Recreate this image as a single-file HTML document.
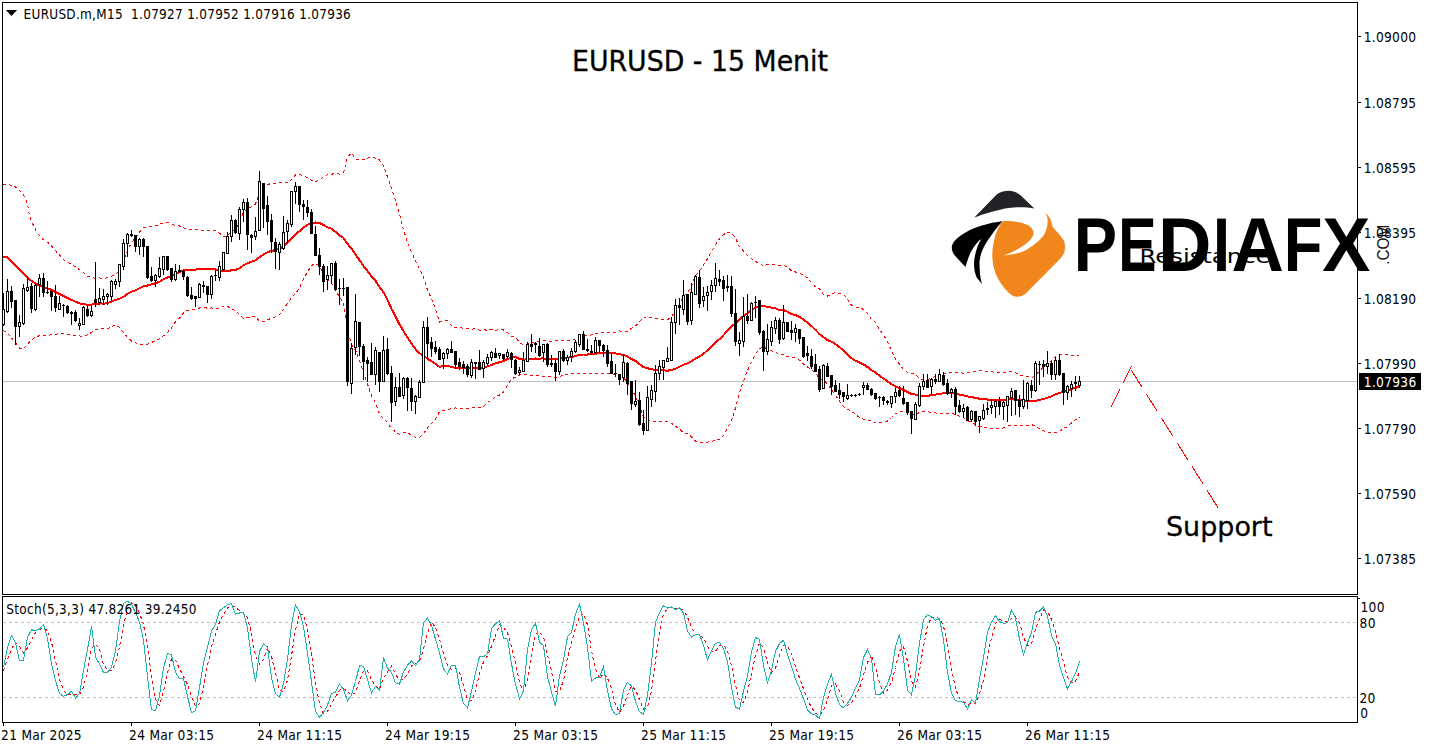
<!DOCTYPE html><html><head><meta charset="utf-8"><title>EURUSD M15</title><style>html,body{margin:0;padding:0;background:#fff;}svg{display:block;}</style></head><body>
<svg width="1429" height="749" viewBox="0 0 1429 749">
<rect x="0" y="0" width="1429" height="749" fill="#fff"/>
<rect x="3" y="381" width="1354" height="1" fill="#c0c0c0"/>
<g stroke="#c0c0c0" stroke-width="1" stroke-dasharray="3,3" shape-rendering="crispEdges"><line x1="3" y1="622.5" x2="1357" y2="622.5"/><line x1="3" y1="697.5" x2="1357" y2="697.5"/></g>
<g fill="none" stroke="#ff0000" shape-rendering="crispEdges">
<path d="M2.9,184.3 L8.6,184.3 L15.7,187.1 L21.4,192.1 L25.7,198.6 L27.9,205.7 L28.6,211.4 L30.0,217.1 L32.9,224.3 L37.1,232.9 L42.9,239.3 L49.3,243.6 L54.3,249.3 L60.0,255.7 L64.3,260.3 L71.4,264.3 L77.1,267.9 L82.9,272.1 L87.9,276.4 L95.5,278.3 L99.5,277.9 L103.5,278.4 L107.5,277.8 L111.5,276.3 L115.5,274.8 L119.5,270.3 L123.5,261.0 L127.5,250.4 L131.5,242.4 L135.5,238.0 L139.5,231.9 L143.5,227.6 L147.5,226.8 L151.5,226.3 L155.5,225.6 L159.5,224.5 L163.5,222.7 L167.5,222.6 L171.5,223.8 L175.5,225.5 L179.5,226.0 L183.5,227.9 L187.5,229.3 L191.5,229.7 L195.5,229.7 L199.5,230.2 L203.5,230.6 L207.5,230.2 L211.5,230.1 L215.5,230.6 L219.5,233.1 L223.5,236.2 L227.5,236.4 L231.5,230.9 L235.5,229.6 L239.5,222.1 L243.5,212.1 L247.5,209.2 L251.5,206.8 L255.5,204.0 L259.5,192.6 L263.5,187.3 L267.5,184.5 L271.5,183.5 L275.5,183.2 L279.5,182.7 L283.5,182.7 L287.5,182.8 L291.5,179.5 L295.5,175.0 L299.5,174.3 L303.5,176.3 L307.5,177.5 L311.5,180.5 L315.5,181.7 L319.5,180.2 L323.5,176.5 L327.5,174.9 L331.5,174.3 L335.5,173.2 L339.5,174.1 L343.5,172.8 L347.5,157.2 L351.5,152.8 L355.5,158.8 L359.5,159.9 L363.5,159.5 L367.5,158.4 L371.5,156.6 L375.5,158.3 L379.5,160.0 L383.5,165.8 L387.5,176.8 L391.5,188.8 L395.5,200.9 L399.5,214.2 L403.5,229.7 L407.5,242.5 L411.5,251.9 L415.5,261.0 L419.5,269.1 L423.5,276.9 L427.5,290.1 L431.5,298.7 L435.5,309.1 L439.5,322.0 L443.5,320.9 L447.5,321.0 L451.5,325.9 L455.5,327.6 L459.5,327.9 L463.5,328.1 L467.5,328.1 L471.5,329.2 L475.5,328.7 L479.5,330.2 L483.5,329.7 L487.5,330.3 L491.5,329.5 L495.5,330.2 L499.5,329.5 L503.5,329.9 L507.5,332.6 L511.5,336.0 L515.5,337.1 L519.5,342.6 L523.5,344.8 L527.5,344.0 L531.5,343.2 L535.5,341.3 L539.5,341.5 L543.5,340.7 L547.5,341.2 L551.5,341.2 L555.5,341.0 L559.5,340.4 L563.5,341.0 L567.5,340.8 L571.5,340.3 L575.5,338.9 L579.5,335.8 L583.5,335.3 L587.5,335.2 L591.5,335.0 L595.5,333.6 L599.5,332.9 L603.5,332.8 L607.5,332.7 L611.5,332.7 L615.5,332.4 L619.5,330.9 L623.5,331.9 L627.5,331.1 L631.5,328.2 L635.5,325.9 L639.5,321.8 L643.5,317.1 L647.5,317.1 L651.5,317.1 L655.5,318.6 L659.5,319.0 L663.5,319.2 L667.5,319.9 L671.5,316.6 L675.5,311.0 L679.5,304.6 L683.5,296.3 L687.5,292.9 L691.5,285.9 L695.5,275.8 L699.5,271.0 L703.5,264.9 L707.5,258.6 L711.5,251.9 L715.5,244.8 L719.5,238.8 L723.5,234.6 L727.5,232.2 L731.5,232.9 L735.5,238.3 L739.5,246.7 L743.5,251.0 L747.5,255.7 L751.5,258.5 L755.5,261.3 L759.5,264.2 L763.5,265.3 L767.5,264.3 L771.5,264.5 L775.5,264.8 L779.5,265.3 L783.5,265.3 L787.5,266.9 L791.5,271.1 L795.5,272.0 L799.5,273.6 L803.5,274.9 L807.5,278.1 L811.5,282.5 L815.5,286.9 L819.5,288.7 L823.5,294.8 L827.5,296.0 L831.5,294.2 L835.5,292.4 L839.5,293.3 L843.5,294.4 L847.5,299.1 L851.5,305.2 L855.5,307.0 L859.5,307.4 L863.5,309.5 L867.5,313.5 L871.5,319.4 L875.5,322.4 L879.5,329.3 L883.5,335.1 L887.5,341.7 L891.5,351.0 L895.5,359.4 L899.5,364.0 L903.5,369.6 L907.5,372.3 L911.5,373.7 L915.5,374.0 L919.5,378.6 L923.5,379.6 L927.5,379.8 L931.5,378.0 L935.5,376.6 L939.5,373.9 L943.5,373.0 L947.5,373.0 L951.5,372.7 L955.5,372.5 L959.5,372.8 L963.5,373.1 L967.5,372.1 L971.5,372.0 L975.5,371.2 L979.5,370.9 L983.5,370.9 L987.5,371.2 L991.5,371.9 L995.5,372.2 L999.5,372.3 L1003.5,372.2 L1007.5,372.3 L1011.5,371.7 L1015.5,372.8 L1019.5,374.8 L1023.5,375.9 L1027.5,376.6 L1031.5,378.0 L1035.5,375.1 L1039.5,371.0 L1043.5,366.9 L1047.5,363.0 L1051.5,360.6 L1055.5,356.2 L1059.5,354.4 L1063.5,354.9 L1067.5,354.7 L1071.5,355.4 L1075.5,355.9 L1079.5,356.0" stroke-width="1" stroke-dasharray="3,3"/>
<path d="M2.9,330.0 L8.6,334.3 L14.3,341.4 L20.0,348.6 L22.9,349.3 L28.6,342.9 L34.3,337.9 L40.0,335.4 L50.0,335.0 L60.0,333.6 L68.6,334.3 L77.1,335.7 L82.9,336.4 L88.6,334.3 L95.5,329.4 L99.5,329.0 L103.5,328.9 L107.5,328.8 L111.5,326.6 L115.5,324.7 L119.5,327.2 L123.5,332.8 L127.5,337.3 L131.5,341.1 L135.5,342.8 L139.5,344.5 L143.5,345.0 L147.5,344.2 L151.5,342.4 L155.5,340.8 L159.5,338.8 L163.5,335.9 L167.5,332.4 L171.5,327.8 L175.5,321.8 L179.5,318.2 L183.5,313.0 L187.5,310.2 L191.5,309.6 L195.5,309.6 L199.5,308.0 L203.5,306.9 L207.5,308.4 L211.5,308.0 L215.5,308.5 L219.5,307.9 L223.5,306.3 L227.5,306.2 L231.5,309.5 L235.5,310.2 L239.5,314.6 L243.5,318.4 L247.5,317.5 L251.5,316.7 L255.5,316.4 L259.5,321.6 L263.5,321.7 L267.5,319.8 L271.5,318.2 L275.5,316.9 L279.5,314.8 L283.5,309.5 L287.5,303.2 L291.5,297.6 L295.5,293.9 L299.5,287.8 L303.5,278.5 L307.5,272.0 L311.5,265.5 L315.5,263.4 L319.5,266.0 L323.5,273.5 L327.5,279.7 L331.5,282.9 L335.5,290.7 L339.5,296.9 L343.5,302.7 L347.5,330.3 L351.5,344.4 L355.5,350.1 L359.5,360.5 L363.5,372.6 L367.5,383.9 L371.5,395.9 L375.5,403.0 L379.5,413.7 L383.5,418.5 L387.5,422.7 L391.5,428.7 L395.5,431.9 L399.5,434.4 L403.5,432.7 L407.5,432.7 L411.5,435.5 L415.5,437.2 L419.5,437.6 L423.5,434.1 L427.5,427.6 L431.5,423.8 L435.5,418.7 L439.5,411.8 L443.5,410.5 L447.5,410.5 L451.5,408.2 L455.5,408.0 L459.5,408.1 L463.5,408.3 L467.5,408.3 L471.5,408.1 L475.5,407.1 L479.5,407.2 L483.5,406.8 L487.5,402.4 L491.5,400.4 L495.5,396.4 L499.5,395.0 L503.5,392.1 L507.5,385.4 L511.5,378.9 L515.5,377.1 L519.5,375.1 L523.5,374.4 L527.5,374.8 L531.5,375.2 L535.5,375.8 L539.5,375.8 L543.5,376.2 L547.5,376.6 L551.5,376.6 L555.5,377.2 L559.5,376.5 L563.5,374.8 L567.5,374.5 L571.5,374.0 L575.5,373.2 L579.5,374.0 L583.5,373.7 L587.5,373.7 L591.5,373.5 L595.5,373.8 L599.5,373.5 L603.5,373.4 L607.5,373.8 L611.5,373.8 L615.5,374.4 L619.5,377.4 L623.5,378.0 L627.5,381.8 L631.5,389.7 L635.5,395.9 L639.5,406.6 L643.5,416.8 L647.5,419.6 L651.5,421.1 L655.5,421.5 L659.5,421.6 L663.5,421.6 L667.5,421.5 L671.5,423.2 L675.5,426.3 L679.5,429.2 L683.5,433.0 L687.5,433.7 L691.5,436.8 L695.5,441.1 L699.5,442.0 L703.5,442.5 L707.5,442.1 L711.5,441.5 L715.5,440.1 L719.5,439.3 L723.5,435.6 L727.5,428.4 L731.5,420.4 L735.5,408.0 L739.5,392.1 L743.5,381.1 L747.5,370.5 L751.5,362.0 L755.5,353.8 L759.5,348.5 L763.5,346.9 L767.5,349.2 L771.5,350.9 L775.5,351.7 L779.5,354.9 L783.5,354.9 L787.5,356.6 L791.5,357.1 L795.5,358.2 L799.5,360.1 L803.5,364.2 L807.5,366.9 L811.5,369.8 L815.5,372.8 L819.5,379.5 L823.5,379.9 L827.5,383.9 L831.5,389.5 L835.5,395.5 L839.5,401.1 L843.5,406.4 L847.5,409.3 L851.5,411.0 L855.5,414.4 L859.5,417.6 L863.5,419.3 L867.5,420.5 L871.5,420.8 L875.5,422.7 L879.5,422.1 L883.5,422.0 L887.5,421.1 L891.5,417.5 L895.5,413.6 L899.5,412.3 L903.5,410.7 L907.5,411.8 L911.5,414.3 L915.5,415.2 L919.5,412.4 L923.5,411.8 L927.5,411.7 L931.5,412.5 L935.5,412.9 L939.5,413.7 L943.5,413.6 L947.5,413.5 L951.5,413.3 L955.5,414.5 L959.5,416.4 L963.5,417.7 L967.5,420.8 L971.5,422.0 L975.5,424.8 L979.5,426.4 L983.5,427.2 L987.5,427.9 L991.5,428.3 L995.5,428.5 L999.5,428.7 L1003.5,427.8 L1007.5,425.9 L1011.5,425.5 L1015.5,425.6 L1019.5,425.6 L1023.5,425.5 L1027.5,425.2 L1031.5,424.5 L1035.5,426.5 L1039.5,428.9 L1043.5,430.7 L1047.5,432.5 L1051.5,432.3 L1055.5,432.4 L1059.5,431.4 L1063.5,428.5 L1067.5,426.6 L1071.5,422.9 L1075.5,419.6 L1079.5,417.1" stroke-width="1" stroke-dasharray="3,3"/>
<path d="M2.9,257.4 L7.1,257.4 L10.0,260.0 L14.3,264.3 L21.4,271.4 L28.6,278.6 L31.4,280.7 L35.7,283.6 L42.9,286.9 L50.0,289.3 L60.0,294.3 L68.6,298.6 L80.0,303.6 L88.6,305.0 L95.5,303.9 L99.5,303.4 L103.5,303.6 L107.5,303.3 L111.5,301.5 L115.5,299.8 L119.5,298.8 L123.5,296.9 L127.5,293.8 L131.5,291.8 L135.5,290.4 L139.5,288.2 L143.5,286.3 L147.5,285.5 L151.5,284.4 L155.5,283.2 L159.5,281.7 L163.5,279.3 L167.5,277.5 L171.5,275.8 L175.5,273.6 L179.5,272.1 L183.5,270.5 L187.5,269.8 L191.5,269.6 L195.5,269.6 L199.5,269.1 L203.5,268.8 L207.5,269.3 L211.5,269.1 L215.5,269.5 L219.5,270.5 L223.5,271.2 L227.5,271.3 L231.5,270.2 L235.5,269.9 L239.5,268.4 L243.5,265.2 L247.5,263.3 L251.5,261.8 L255.5,260.2 L259.5,257.1 L263.5,254.5 L267.5,252.1 L271.5,250.9 L275.5,250.1 L279.5,248.8 L283.5,246.1 L287.5,243.0 L291.5,238.5 L295.5,234.5 L299.5,231.1 L303.5,227.4 L307.5,224.8 L311.5,223.0 L315.5,222.5 L319.5,223.1 L323.5,225.0 L327.5,227.3 L331.5,228.6 L335.5,231.9 L339.5,235.5 L343.5,237.8 L347.5,243.8 L351.5,248.6 L355.5,254.5 L359.5,260.2 L363.5,266.0 L367.5,271.1 L371.5,276.2 L375.5,280.7 L379.5,286.9 L383.5,292.2 L387.5,299.8 L391.5,308.8 L395.5,316.4 L399.5,324.3 L403.5,331.2 L407.5,337.6 L411.5,343.7 L415.5,349.1 L419.5,353.3 L423.5,355.5 L427.5,358.8 L431.5,361.3 L435.5,363.9 L439.5,366.9 L443.5,365.7 L447.5,365.8 L451.5,367.0 L455.5,367.8 L459.5,368.0 L463.5,368.2 L467.5,368.2 L471.5,368.7 L475.5,367.9 L479.5,368.7 L483.5,368.2 L487.5,366.4 L491.5,364.9 L495.5,363.3 L499.5,362.2 L503.5,361.0 L507.5,359.0 L511.5,357.5 L515.5,357.1 L519.5,358.9 L523.5,359.6 L527.5,359.4 L531.5,359.2 L535.5,358.5 L539.5,358.6 L543.5,358.4 L547.5,358.9 L551.5,358.9 L555.5,359.1 L559.5,358.5 L563.5,357.9 L567.5,357.7 L571.5,357.2 L575.5,356.0 L579.5,354.9 L583.5,354.5 L587.5,354.5 L591.5,354.2 L595.5,353.7 L599.5,353.2 L603.5,353.1 L607.5,353.2 L611.5,353.2 L615.5,353.4 L619.5,354.2 L623.5,354.9 L627.5,356.5 L631.5,359.0 L635.5,360.9 L639.5,364.2 L643.5,367.0 L647.5,368.3 L651.5,369.1 L655.5,370.0 L659.5,370.3 L663.5,370.4 L667.5,370.7 L671.5,369.9 L675.5,368.7 L679.5,366.9 L683.5,364.6 L687.5,363.3 L691.5,361.3 L695.5,358.5 L699.5,356.5 L703.5,353.7 L707.5,350.3 L711.5,346.7 L715.5,342.5 L719.5,339.1 L723.5,335.1 L727.5,330.3 L731.5,326.6 L735.5,323.2 L739.5,319.4 L743.5,316.0 L747.5,313.1 L751.5,310.2 L755.5,307.5 L759.5,306.4 L763.5,306.1 L767.5,306.8 L771.5,307.7 L775.5,308.2 L779.5,310.1 L783.5,310.1 L787.5,311.8 L791.5,314.1 L795.5,315.1 L799.5,316.9 L803.5,319.5 L807.5,322.5 L811.5,326.1 L815.5,329.9 L819.5,334.1 L823.5,337.3 L827.5,340.0 L831.5,341.8 L835.5,344.0 L839.5,347.2 L843.5,350.4 L847.5,354.2 L851.5,358.1 L855.5,360.7 L859.5,362.5 L863.5,364.4 L867.5,367.0 L871.5,370.1 L875.5,372.5 L879.5,375.7 L883.5,378.5 L887.5,381.4 L891.5,384.2 L895.5,386.5 L899.5,388.1 L903.5,390.1 L907.5,392.0 L911.5,394.0 L915.5,394.6 L919.5,395.5 L923.5,395.7 L927.5,395.8 L931.5,395.2 L935.5,394.7 L939.5,393.8 L943.5,393.3 L947.5,393.2 L951.5,393.0 L955.5,393.5 L959.5,394.6 L963.5,395.4 L967.5,396.5 L971.5,397.0 L975.5,398.0 L979.5,398.7 L983.5,399.0 L987.5,399.5 L991.5,400.1 L995.5,400.3 L999.5,400.5 L1003.5,400.0 L1007.5,399.1 L1011.5,398.6 L1015.5,399.2 L1019.5,400.2 L1023.5,400.7 L1027.5,400.9 L1031.5,401.2 L1035.5,400.8 L1039.5,400.0 L1043.5,398.8 L1047.5,397.8 L1051.5,396.4 L1055.5,394.3 L1059.5,392.9 L1063.5,391.7 L1067.5,390.7 L1071.5,389.1 L1075.5,387.8 L1079.5,386.5" stroke-width="2"/>
</g>
<g fill="#000" shape-rendering="crispEdges"><rect x="3" y="293" width="1" height="33"/><rect x="2" y="309" width="3" height="16"/><rect x="3" y="310" width="1" height="14" fill="#fff"/><rect x="7" y="279" width="1" height="34"/><rect x="6" y="291" width="3" height="21"/><rect x="7" y="292" width="1" height="19" fill="#fff"/><rect x="11" y="286" width="1" height="22"/><rect x="10" y="291" width="3" height="11"/><rect x="15" y="300" width="1" height="45"/><rect x="14" y="300" width="3" height="27"/><rect x="19" y="315" width="1" height="22"/><rect x="18" y="322" width="3" height="5"/><rect x="19" y="323" width="1" height="3" fill="#fff"/><rect x="23" y="284" width="1" height="41"/><rect x="22" y="288" width="3" height="36"/><rect x="23" y="289" width="1" height="34" fill="#fff"/><rect x="27" y="276" width="1" height="16"/><rect x="26" y="287" width="3" height="4"/><rect x="27" y="288" width="1" height="2" fill="#fff"/><rect x="31" y="283" width="1" height="30"/><rect x="30" y="286" width="3" height="23"/><rect x="35" y="283" width="1" height="28"/><rect x="34" y="285" width="3" height="25"/><rect x="35" y="286" width="1" height="23" fill="#fff"/><rect x="39" y="274" width="1" height="23"/><rect x="38" y="278" width="3" height="7"/><rect x="39" y="279" width="1" height="5" fill="#fff"/><rect x="43" y="273" width="1" height="24"/><rect x="42" y="278" width="3" height="15"/><rect x="47" y="281" width="1" height="13"/><rect x="46" y="292" width="3" height="1"/><rect x="51" y="290" width="1" height="21"/><rect x="50" y="291" width="3" height="6"/><rect x="55" y="285" width="1" height="27"/><rect x="54" y="296" width="3" height="12"/><rect x="59" y="296" width="1" height="14"/><rect x="58" y="303" width="3" height="7"/><rect x="59" y="304" width="1" height="5" fill="#fff"/><rect x="63" y="304" width="1" height="13"/><rect x="62" y="305" width="3" height="1"/><rect x="67" y="305" width="1" height="9"/><rect x="66" y="306" width="3" height="7"/><rect x="71" y="311" width="1" height="14"/><rect x="70" y="312" width="3" height="2"/><rect x="75" y="310" width="1" height="12"/><rect x="74" y="312" width="3" height="9"/><rect x="79" y="318" width="1" height="12"/><rect x="78" y="323" width="3" height="3"/><rect x="79" y="324" width="1" height="1" fill="#fff"/><rect x="83" y="306" width="1" height="19"/><rect x="82" y="307" width="3" height="18"/><rect x="83" y="308" width="1" height="16" fill="#fff"/><rect x="87" y="306" width="1" height="11"/><rect x="86" y="309" width="3" height="7"/><rect x="91" y="306" width="1" height="11"/><rect x="90" y="311" width="3" height="5"/><rect x="91" y="312" width="1" height="3" fill="#fff"/><rect x="95" y="262" width="1" height="45"/><rect x="94" y="299" width="3" height="4"/><rect x="99" y="288" width="1" height="17"/><rect x="98" y="298" width="3" height="5"/><rect x="99" y="299" width="1" height="3" fill="#fff"/><rect x="103" y="289" width="1" height="16"/><rect x="102" y="296" width="3" height="4"/><rect x="103" y="297" width="1" height="2" fill="#fff"/><rect x="107" y="293" width="1" height="12"/><rect x="106" y="294" width="3" height="3"/><rect x="107" y="295" width="1" height="1" fill="#fff"/><rect x="111" y="280" width="1" height="20"/><rect x="110" y="281" width="3" height="16"/><rect x="111" y="282" width="1" height="14" fill="#fff"/><rect x="115" y="279" width="1" height="10"/><rect x="114" y="281" width="3" height="4"/><rect x="115" y="282" width="1" height="2" fill="#fff"/><rect x="119" y="264" width="1" height="23"/><rect x="118" y="264" width="3" height="18"/><rect x="119" y="265" width="1" height="16" fill="#fff"/><rect x="123" y="239" width="1" height="31"/><rect x="122" y="243" width="3" height="24"/><rect x="123" y="244" width="1" height="22" fill="#fff"/><rect x="127" y="233" width="1" height="24"/><rect x="126" y="234" width="3" height="10"/><rect x="127" y="235" width="1" height="8" fill="#fff"/><rect x="131" y="230" width="1" height="7"/><rect x="130" y="234" width="3" height="2"/><rect x="135" y="235" width="1" height="17"/><rect x="134" y="235" width="3" height="12"/><rect x="139" y="238" width="1" height="17"/><rect x="138" y="239" width="3" height="8"/><rect x="139" y="240" width="1" height="6" fill="#fff"/><rect x="143" y="238" width="1" height="19"/><rect x="142" y="239" width="3" height="8"/><rect x="147" y="246" width="1" height="33"/><rect x="146" y="246" width="3" height="32"/><rect x="151" y="267" width="1" height="15"/><rect x="150" y="276" width="3" height="5"/><rect x="155" y="274" width="1" height="13"/><rect x="154" y="275" width="3" height="6"/><rect x="155" y="276" width="1" height="4" fill="#fff"/><rect x="159" y="257" width="1" height="21"/><rect x="158" y="268" width="3" height="9"/><rect x="159" y="269" width="1" height="7" fill="#fff"/><rect x="163" y="256" width="1" height="19"/><rect x="162" y="256" width="3" height="14"/><rect x="163" y="257" width="1" height="12" fill="#fff"/><rect x="167" y="256" width="1" height="15"/><rect x="166" y="256" width="3" height="14"/><rect x="171" y="268" width="1" height="14"/><rect x="170" y="268" width="3" height="12"/><rect x="175" y="264" width="1" height="17"/><rect x="174" y="271" width="3" height="9"/><rect x="175" y="272" width="1" height="7" fill="#fff"/><rect x="179" y="265" width="1" height="8"/><rect x="178" y="270" width="3" height="2"/><rect x="183" y="270" width="1" height="10"/><rect x="182" y="271" width="3" height="6"/><rect x="187" y="276" width="1" height="21"/><rect x="186" y="277" width="3" height="19"/><rect x="191" y="287" width="1" height="13"/><rect x="190" y="295" width="3" height="4"/><rect x="195" y="296" width="1" height="11"/><rect x="194" y="296" width="3" height="3"/><rect x="199" y="283" width="1" height="15"/><rect x="198" y="284" width="3" height="14"/><rect x="199" y="285" width="1" height="12" fill="#fff"/><rect x="203" y="281" width="1" height="12"/><rect x="202" y="285" width="3" height="2"/><rect x="207" y="286" width="1" height="17"/><rect x="206" y="286" width="3" height="9"/><rect x="211" y="275" width="1" height="24"/><rect x="210" y="276" width="3" height="19"/><rect x="211" y="277" width="1" height="17" fill="#fff"/><rect x="215" y="270" width="1" height="11"/><rect x="214" y="275" width="3" height="1"/><rect x="219" y="261" width="1" height="20"/><rect x="218" y="266" width="3" height="12"/><rect x="219" y="267" width="1" height="10" fill="#fff"/><rect x="223" y="252" width="1" height="19"/><rect x="222" y="252" width="3" height="18"/><rect x="223" y="253" width="1" height="16" fill="#fff"/><rect x="227" y="232" width="1" height="22"/><rect x="226" y="236" width="3" height="18"/><rect x="227" y="237" width="1" height="16" fill="#fff"/><rect x="231" y="215" width="1" height="27"/><rect x="230" y="220" width="3" height="17"/><rect x="231" y="221" width="1" height="15" fill="#fff"/><rect x="235" y="219" width="1" height="15"/><rect x="234" y="220" width="3" height="13"/><rect x="239" y="207" width="1" height="33"/><rect x="238" y="209" width="3" height="25"/><rect x="239" y="210" width="1" height="23" fill="#fff"/><rect x="243" y="199" width="1" height="23"/><rect x="242" y="202" width="3" height="8"/><rect x="243" y="203" width="1" height="6" fill="#fff"/><rect x="247" y="198" width="1" height="52"/><rect x="246" y="202" width="3" height="33"/><rect x="251" y="234" width="1" height="19"/><rect x="250" y="235" width="3" height="3"/><rect x="255" y="217" width="1" height="23"/><rect x="254" y="231" width="3" height="6"/><rect x="255" y="232" width="1" height="4" fill="#fff"/><rect x="259" y="171" width="1" height="60"/><rect x="258" y="181" width="3" height="50"/><rect x="259" y="182" width="1" height="48" fill="#fff"/><rect x="263" y="183" width="1" height="45"/><rect x="262" y="183" width="3" height="26"/><rect x="267" y="196" width="1" height="39"/><rect x="266" y="205" width="3" height="17"/><rect x="271" y="214" width="1" height="39"/><rect x="270" y="220" width="3" height="22"/><rect x="275" y="238" width="1" height="31"/><rect x="274" y="242" width="3" height="10"/><rect x="279" y="242" width="1" height="28"/><rect x="278" y="244" width="3" height="9"/><rect x="279" y="245" width="1" height="7" fill="#fff"/><rect x="283" y="216" width="1" height="34"/><rect x="282" y="232" width="3" height="17"/><rect x="283" y="233" width="1" height="15" fill="#fff"/><rect x="287" y="220" width="1" height="23"/><rect x="286" y="223" width="3" height="9"/><rect x="287" y="224" width="1" height="7" fill="#fff"/><rect x="291" y="191" width="1" height="36"/><rect x="290" y="191" width="3" height="34"/><rect x="291" y="192" width="1" height="32" fill="#fff"/><rect x="295" y="182" width="1" height="22"/><rect x="294" y="186" width="3" height="6"/><rect x="295" y="187" width="1" height="4" fill="#fff"/><rect x="299" y="186" width="1" height="26"/><rect x="298" y="186" width="3" height="19"/><rect x="303" y="200" width="1" height="20"/><rect x="302" y="204" width="3" height="3"/><rect x="307" y="200" width="1" height="17"/><rect x="306" y="207" width="3" height="6"/><rect x="311" y="209" width="1" height="25"/><rect x="310" y="212" width="3" height="22"/><rect x="315" y="226" width="1" height="30"/><rect x="314" y="234" width="3" height="22"/><rect x="319" y="248" width="1" height="27"/><rect x="318" y="255" width="3" height="12"/><rect x="323" y="264" width="1" height="28"/><rect x="322" y="266" width="3" height="16"/><rect x="327" y="266" width="1" height="24"/><rect x="326" y="275" width="3" height="5"/><rect x="327" y="276" width="1" height="3" fill="#fff"/><rect x="331" y="263" width="1" height="21"/><rect x="330" y="263" width="3" height="13"/><rect x="331" y="264" width="1" height="11" fill="#fff"/><rect x="335" y="261" width="1" height="30"/><rect x="334" y="263" width="3" height="27"/><rect x="339" y="279" width="1" height="26"/><rect x="338" y="288" width="3" height="1"/><rect x="343" y="278" width="1" height="18"/><rect x="342" y="288" width="3" height="1"/><rect x="347" y="287" width="1" height="99"/><rect x="346" y="287" width="3" height="95"/><rect x="351" y="343" width="1" height="51"/><rect x="350" y="348" width="3" height="36"/><rect x="351" y="349" width="1" height="34" fill="#fff"/><rect x="355" y="294" width="1" height="61"/><rect x="354" y="321" width="3" height="27"/><rect x="355" y="322" width="1" height="25" fill="#fff"/><rect x="359" y="322" width="1" height="34"/><rect x="358" y="322" width="3" height="25"/><rect x="363" y="344" width="1" height="36"/><rect x="362" y="346" width="3" height="16"/><rect x="367" y="357" width="1" height="25"/><rect x="366" y="360" width="3" height="4"/><rect x="371" y="343" width="1" height="32"/><rect x="370" y="362" width="3" height="13"/><rect x="375" y="347" width="1" height="38"/><rect x="374" y="350" width="3" height="25"/><rect x="375" y="351" width="1" height="23" fill="#fff"/><rect x="379" y="352" width="1" height="40"/><rect x="378" y="352" width="3" height="30"/><rect x="383" y="336" width="1" height="46"/><rect x="382" y="350" width="3" height="32"/><rect x="383" y="351" width="1" height="30" fill="#fff"/><rect x="387" y="338" width="1" height="37"/><rect x="386" y="349" width="3" height="25"/><rect x="391" y="366" width="1" height="56"/><rect x="390" y="373" width="3" height="30"/><rect x="395" y="377" width="1" height="29"/><rect x="394" y="387" width="3" height="15"/><rect x="395" y="388" width="1" height="13" fill="#fff"/><rect x="399" y="373" width="1" height="24"/><rect x="398" y="387" width="3" height="10"/><rect x="403" y="377" width="1" height="22"/><rect x="402" y="378" width="3" height="18"/><rect x="403" y="379" width="1" height="16" fill="#fff"/><rect x="407" y="377" width="1" height="34"/><rect x="406" y="378" width="3" height="10"/><rect x="411" y="378" width="1" height="33"/><rect x="410" y="388" width="3" height="14"/><rect x="415" y="395" width="1" height="19"/><rect x="414" y="396" width="3" height="6"/><rect x="415" y="397" width="1" height="4" fill="#fff"/><rect x="419" y="380" width="1" height="18"/><rect x="418" y="382" width="3" height="16"/><rect x="419" y="383" width="1" height="14" fill="#fff"/><rect x="423" y="321" width="1" height="62"/><rect x="422" y="327" width="3" height="56"/><rect x="423" y="328" width="1" height="54" fill="#fff"/><rect x="427" y="317" width="1" height="42"/><rect x="426" y="327" width="3" height="17"/><rect x="431" y="337" width="1" height="20"/><rect x="430" y="342" width="3" height="7"/><rect x="435" y="341" width="1" height="13"/><rect x="434" y="347" width="3" height="5"/><rect x="439" y="347" width="1" height="13"/><rect x="438" y="349" width="3" height="11"/><rect x="443" y="352" width="1" height="17"/><rect x="442" y="353" width="3" height="6"/><rect x="443" y="354" width="1" height="4" fill="#fff"/><rect x="447" y="348" width="1" height="11"/><rect x="446" y="349" width="3" height="5"/><rect x="447" y="350" width="1" height="3" fill="#fff"/><rect x="451" y="341" width="1" height="12"/><rect x="450" y="349" width="3" height="4"/><rect x="455" y="351" width="1" height="18"/><rect x="454" y="351" width="3" height="14"/><rect x="459" y="358" width="1" height="12"/><rect x="458" y="362" width="3" height="5"/><rect x="463" y="361" width="1" height="13"/><rect x="462" y="364" width="3" height="4"/><rect x="467" y="364" width="1" height="13"/><rect x="466" y="366" width="3" height="9"/><rect x="471" y="359" width="1" height="19"/><rect x="470" y="362" width="3" height="14"/><rect x="471" y="363" width="1" height="12" fill="#fff"/><rect x="475" y="362" width="1" height="17"/><rect x="474" y="362" width="3" height="2"/><rect x="479" y="350" width="1" height="20"/><rect x="478" y="362" width="3" height="8"/><rect x="483" y="360" width="1" height="18"/><rect x="482" y="362" width="3" height="7"/><rect x="483" y="363" width="1" height="5" fill="#fff"/><rect x="487" y="354" width="1" height="11"/><rect x="486" y="357" width="3" height="7"/><rect x="487" y="358" width="1" height="5" fill="#fff"/><rect x="491" y="351" width="1" height="10"/><rect x="490" y="352" width="3" height="6"/><rect x="491" y="353" width="1" height="4" fill="#fff"/><rect x="495" y="348" width="1" height="10"/><rect x="494" y="353" width="3" height="5"/><rect x="499" y="353" width="1" height="6"/><rect x="498" y="353" width="3" height="3"/><rect x="499" y="354" width="1" height="1" fill="#fff"/><rect x="503" y="354" width="1" height="6"/><rect x="502" y="354" width="3" height="5"/><rect x="507" y="349" width="1" height="9"/><rect x="506" y="352" width="3" height="5"/><rect x="507" y="353" width="1" height="3" fill="#fff"/><rect x="511" y="352" width="1" height="16"/><rect x="510" y="353" width="3" height="7"/><rect x="515" y="359" width="1" height="16"/><rect x="514" y="360" width="3" height="14"/><rect x="519" y="367" width="1" height="8"/><rect x="518" y="370" width="3" height="3"/><rect x="519" y="371" width="1" height="1" fill="#fff"/><rect x="523" y="352" width="1" height="20"/><rect x="522" y="360" width="3" height="12"/><rect x="523" y="361" width="1" height="10" fill="#fff"/><rect x="527" y="342" width="1" height="20"/><rect x="526" y="344" width="3" height="18"/><rect x="527" y="345" width="1" height="16" fill="#fff"/><rect x="531" y="334" width="1" height="18"/><rect x="530" y="344" width="3" height="3"/><rect x="535" y="342" width="1" height="11"/><rect x="534" y="343" width="3" height="2"/><rect x="539" y="338" width="1" height="19"/><rect x="538" y="346" width="3" height="10"/><rect x="543" y="344" width="1" height="18"/><rect x="542" y="344" width="3" height="9"/><rect x="543" y="345" width="1" height="7" fill="#fff"/><rect x="547" y="343" width="1" height="24"/><rect x="546" y="344" width="3" height="21"/><rect x="551" y="355" width="1" height="12"/><rect x="550" y="363" width="3" height="2"/><rect x="555" y="359" width="1" height="22"/><rect x="554" y="363" width="3" height="9"/><rect x="559" y="351" width="1" height="24"/><rect x="558" y="351" width="3" height="21"/><rect x="559" y="352" width="1" height="19" fill="#fff"/><rect x="563" y="349" width="1" height="13"/><rect x="562" y="351" width="3" height="10"/><rect x="567" y="355" width="1" height="10"/><rect x="566" y="357" width="3" height="4"/><rect x="567" y="358" width="1" height="2" fill="#fff"/><rect x="571" y="348" width="1" height="14"/><rect x="570" y="351" width="3" height="6"/><rect x="571" y="352" width="1" height="4" fill="#fff"/><rect x="575" y="340" width="1" height="13"/><rect x="574" y="342" width="3" height="10"/><rect x="575" y="343" width="1" height="8" fill="#fff"/><rect x="579" y="334" width="1" height="13"/><rect x="578" y="334" width="3" height="11"/><rect x="579" y="335" width="1" height="9" fill="#fff"/><rect x="583" y="331" width="1" height="19"/><rect x="582" y="334" width="3" height="16"/><rect x="587" y="339" width="1" height="13"/><rect x="586" y="349" width="3" height="2"/><rect x="591" y="345" width="1" height="10"/><rect x="590" y="351" width="3" height="2"/><rect x="595" y="337" width="1" height="17"/><rect x="594" y="340" width="3" height="13"/><rect x="595" y="341" width="1" height="11" fill="#fff"/><rect x="599" y="340" width="1" height="13"/><rect x="598" y="340" width="3" height="6"/><rect x="603" y="344" width="1" height="13"/><rect x="602" y="345" width="3" height="6"/><rect x="607" y="345" width="1" height="22"/><rect x="606" y="350" width="3" height="14"/><rect x="611" y="354" width="1" height="20"/><rect x="610" y="361" width="3" height="13"/><rect x="615" y="364" width="1" height="13"/><rect x="614" y="373" width="3" height="1"/><rect x="619" y="374" width="1" height="11"/><rect x="618" y="374" width="3" height="6"/><rect x="623" y="354" width="1" height="28"/><rect x="622" y="362" width="3" height="16"/><rect x="623" y="363" width="1" height="14" fill="#fff"/><rect x="627" y="362" width="1" height="33"/><rect x="626" y="363" width="3" height="21"/><rect x="631" y="381" width="1" height="29"/><rect x="630" y="381" width="3" height="23"/><rect x="635" y="380" width="1" height="27"/><rect x="634" y="401" width="3" height="4"/><rect x="635" y="402" width="1" height="2" fill="#fff"/><rect x="639" y="392" width="1" height="34"/><rect x="638" y="400" width="3" height="25"/><rect x="643" y="410" width="1" height="25"/><rect x="642" y="423" width="3" height="8"/><rect x="647" y="386" width="1" height="45"/><rect x="646" y="397" width="3" height="34"/><rect x="647" y="398" width="1" height="32" fill="#fff"/><rect x="651" y="385" width="1" height="22"/><rect x="650" y="390" width="3" height="10"/><rect x="651" y="391" width="1" height="8" fill="#fff"/><rect x="655" y="365" width="1" height="37"/><rect x="654" y="373" width="3" height="19"/><rect x="655" y="374" width="1" height="17" fill="#fff"/><rect x="659" y="360" width="1" height="20"/><rect x="658" y="366" width="3" height="8"/><rect x="659" y="367" width="1" height="6" fill="#fff"/><rect x="663" y="360" width="1" height="20"/><rect x="662" y="360" width="3" height="8"/><rect x="663" y="361" width="1" height="6" fill="#fff"/><rect x="667" y="347" width="1" height="15"/><rect x="666" y="358" width="3" height="4"/><rect x="667" y="359" width="1" height="2" fill="#fff"/><rect x="671" y="317" width="1" height="44"/><rect x="670" y="322" width="3" height="39"/><rect x="671" y="323" width="1" height="37" fill="#fff"/><rect x="675" y="299" width="1" height="35"/><rect x="674" y="305" width="3" height="18"/><rect x="675" y="306" width="1" height="16" fill="#fff"/><rect x="679" y="298" width="1" height="27"/><rect x="678" y="305" width="3" height="3"/><rect x="683" y="280" width="1" height="35"/><rect x="682" y="295" width="3" height="15"/><rect x="683" y="296" width="1" height="13" fill="#fff"/><rect x="687" y="294" width="1" height="31"/><rect x="686" y="294" width="3" height="28"/><rect x="691" y="283" width="1" height="42"/><rect x="690" y="292" width="3" height="29"/><rect x="691" y="293" width="1" height="27" fill="#fff"/><rect x="695" y="275" width="1" height="20"/><rect x="694" y="276" width="3" height="19"/><rect x="695" y="277" width="1" height="17" fill="#fff"/><rect x="699" y="270" width="1" height="38"/><rect x="698" y="277" width="3" height="27"/><rect x="703" y="287" width="1" height="20"/><rect x="702" y="296" width="3" height="5"/><rect x="703" y="297" width="1" height="3" fill="#fff"/><rect x="707" y="286" width="1" height="25"/><rect x="706" y="292" width="3" height="4"/><rect x="707" y="293" width="1" height="2" fill="#fff"/><rect x="711" y="280" width="1" height="20"/><rect x="710" y="285" width="3" height="7"/><rect x="711" y="286" width="1" height="5" fill="#fff"/><rect x="715" y="263" width="1" height="29"/><rect x="714" y="278" width="3" height="8"/><rect x="715" y="279" width="1" height="6" fill="#fff"/><rect x="719" y="270" width="1" height="16"/><rect x="718" y="279" width="3" height="3"/><rect x="723" y="276" width="1" height="25"/><rect x="722" y="280" width="3" height="9"/><rect x="727" y="275" width="1" height="17"/><rect x="726" y="286" width="3" height="2"/><rect x="731" y="276" width="1" height="41"/><rect x="730" y="286" width="3" height="28"/><rect x="735" y="289" width="1" height="57"/><rect x="734" y="313" width="3" height="29"/><rect x="739" y="332" width="1" height="24"/><rect x="738" y="340" width="3" height="4"/><rect x="739" y="341" width="1" height="2" fill="#fff"/><rect x="743" y="297" width="1" height="50"/><rect x="742" y="316" width="3" height="26"/><rect x="743" y="317" width="1" height="24" fill="#fff"/><rect x="747" y="294" width="1" height="30"/><rect x="746" y="316" width="3" height="5"/><rect x="751" y="302" width="1" height="19"/><rect x="750" y="303" width="3" height="18"/><rect x="751" y="304" width="1" height="16" fill="#fff"/><rect x="755" y="296" width="1" height="22"/><rect x="754" y="302" width="3" height="1"/><rect x="759" y="300" width="1" height="35"/><rect x="758" y="300" width="3" height="33"/><rect x="763" y="330" width="1" height="41"/><rect x="762" y="331" width="3" height="21"/><rect x="767" y="324" width="1" height="31"/><rect x="766" y="339" width="3" height="13"/><rect x="767" y="340" width="1" height="11" fill="#fff"/><rect x="771" y="321" width="1" height="25"/><rect x="770" y="327" width="3" height="15"/><rect x="771" y="328" width="1" height="13" fill="#fff"/><rect x="775" y="317" width="1" height="17"/><rect x="774" y="320" width="3" height="9"/><rect x="775" y="321" width="1" height="7" fill="#fff"/><rect x="779" y="318" width="1" height="26"/><rect x="778" y="320" width="3" height="20"/><rect x="783" y="305" width="1" height="35"/><rect x="782" y="322" width="3" height="17"/><rect x="783" y="323" width="1" height="15" fill="#fff"/><rect x="787" y="322" width="1" height="10"/><rect x="786" y="322" width="3" height="10"/><rect x="791" y="321" width="1" height="19"/><rect x="790" y="330" width="3" height="3"/><rect x="795" y="324" width="1" height="18"/><rect x="794" y="328" width="3" height="5"/><rect x="795" y="329" width="1" height="3" fill="#fff"/><rect x="799" y="329" width="1" height="15"/><rect x="798" y="329" width="3" height="10"/><rect x="803" y="337" width="1" height="21"/><rect x="802" y="337" width="3" height="20"/><rect x="807" y="346" width="1" height="15"/><rect x="806" y="353" width="3" height="3"/><rect x="811" y="349" width="1" height="20"/><rect x="810" y="356" width="3" height="11"/><rect x="815" y="354" width="1" height="18"/><rect x="814" y="364" width="3" height="8"/><rect x="819" y="366" width="1" height="26"/><rect x="818" y="369" width="3" height="21"/><rect x="823" y="364" width="1" height="25"/><rect x="822" y="365" width="3" height="24"/><rect x="823" y="366" width="1" height="22" fill="#fff"/><rect x="827" y="363" width="1" height="14"/><rect x="826" y="366" width="3" height="11"/><rect x="831" y="375" width="1" height="20"/><rect x="830" y="375" width="3" height="12"/><rect x="835" y="380" width="1" height="12"/><rect x="834" y="385" width="3" height="7"/><rect x="839" y="383" width="1" height="16"/><rect x="838" y="390" width="3" height="5"/><rect x="843" y="392" width="1" height="10"/><rect x="842" y="392" width="3" height="5"/><rect x="847" y="384" width="1" height="16"/><rect x="846" y="395" width="3" height="4"/><rect x="847" y="396" width="1" height="2" fill="#fff"/><rect x="851" y="394" width="1" height="3"/><rect x="850" y="395" width="3" height="1"/><rect x="855" y="394" width="1" height="3"/><rect x="854" y="395" width="3" height="1"/><rect x="859" y="393" width="1" height="3"/><rect x="858" y="394" width="3" height="1"/><rect x="863" y="382" width="1" height="13"/><rect x="862" y="385" width="3" height="3"/><rect x="863" y="386" width="1" height="1" fill="#fff"/><rect x="867" y="383" width="1" height="7"/><rect x="866" y="385" width="3" height="5"/><rect x="871" y="388" width="1" height="8"/><rect x="870" y="389" width="3" height="6"/><rect x="875" y="393" width="1" height="7"/><rect x="874" y="393" width="3" height="6"/><rect x="879" y="396" width="1" height="11"/><rect x="878" y="397" width="3" height="1"/><rect x="883" y="396" width="1" height="9"/><rect x="882" y="397" width="3" height="4"/><rect x="887" y="400" width="1" height="5"/><rect x="886" y="401" width="3" height="2"/><rect x="891" y="396" width="1" height="12"/><rect x="890" y="396" width="3" height="8"/><rect x="891" y="397" width="1" height="6" fill="#fff"/><rect x="895" y="388" width="1" height="15"/><rect x="894" y="392" width="3" height="5"/><rect x="895" y="393" width="1" height="3" fill="#fff"/><rect x="899" y="386" width="1" height="11"/><rect x="898" y="390" width="3" height="6"/><rect x="903" y="386" width="1" height="19"/><rect x="902" y="398" width="3" height="6"/><rect x="907" y="402" width="1" height="13"/><rect x="906" y="402" width="3" height="11"/><rect x="911" y="411" width="1" height="23"/><rect x="910" y="411" width="3" height="8"/><rect x="915" y="402" width="1" height="18"/><rect x="914" y="404" width="3" height="16"/><rect x="915" y="405" width="1" height="14" fill="#fff"/><rect x="919" y="383" width="1" height="24"/><rect x="918" y="386" width="3" height="20"/><rect x="919" y="387" width="1" height="18" fill="#fff"/><rect x="923" y="374" width="1" height="16"/><rect x="922" y="381" width="3" height="6"/><rect x="923" y="382" width="1" height="4" fill="#fff"/><rect x="927" y="374" width="1" height="14"/><rect x="926" y="380" width="3" height="8"/><rect x="931" y="378" width="1" height="16"/><rect x="930" y="379" width="3" height="8"/><rect x="931" y="380" width="1" height="6" fill="#fff"/><rect x="935" y="374" width="1" height="10"/><rect x="934" y="379" width="3" height="3"/><rect x="939" y="369" width="1" height="13"/><rect x="938" y="374" width="3" height="8"/><rect x="939" y="375" width="1" height="6" fill="#fff"/><rect x="943" y="372" width="1" height="14"/><rect x="942" y="375" width="3" height="10"/><rect x="947" y="379" width="1" height="16"/><rect x="946" y="383" width="3" height="11"/><rect x="951" y="388" width="1" height="10"/><rect x="950" y="389" width="3" height="4"/><rect x="951" y="390" width="1" height="2" fill="#fff"/><rect x="955" y="387" width="1" height="28"/><rect x="954" y="389" width="3" height="18"/><rect x="959" y="400" width="1" height="13"/><rect x="958" y="405" width="3" height="7"/><rect x="963" y="404" width="1" height="14"/><rect x="962" y="408" width="3" height="4"/><rect x="963" y="409" width="1" height="2" fill="#fff"/><rect x="967" y="406" width="1" height="15"/><rect x="966" y="407" width="3" height="14"/><rect x="971" y="410" width="1" height="12"/><rect x="970" y="411" width="3" height="9"/><rect x="971" y="412" width="1" height="7" fill="#fff"/><rect x="975" y="411" width="1" height="15"/><rect x="974" y="411" width="3" height="11"/><rect x="979" y="416" width="1" height="17"/><rect x="978" y="416" width="3" height="5"/><rect x="979" y="417" width="1" height="3" fill="#fff"/><rect x="983" y="404" width="1" height="16"/><rect x="982" y="410" width="3" height="9"/><rect x="983" y="411" width="1" height="7" fill="#fff"/><rect x="987" y="402" width="1" height="13"/><rect x="986" y="408" width="3" height="2"/><rect x="991" y="399" width="1" height="15"/><rect x="990" y="405" width="3" height="3"/><rect x="991" y="406" width="1" height="1" fill="#fff"/><rect x="995" y="399" width="1" height="19"/><rect x="994" y="401" width="3" height="6"/><rect x="995" y="402" width="1" height="4" fill="#fff"/><rect x="999" y="397" width="1" height="18"/><rect x="998" y="401" width="3" height="6"/><rect x="1003" y="401" width="1" height="19"/><rect x="1002" y="402" width="3" height="5"/><rect x="1003" y="403" width="1" height="3" fill="#fff"/><rect x="1007" y="396" width="1" height="26"/><rect x="1006" y="396" width="3" height="10"/><rect x="1007" y="397" width="1" height="8" fill="#fff"/><rect x="1011" y="388" width="1" height="28"/><rect x="1010" y="391" width="3" height="7"/><rect x="1011" y="392" width="1" height="5" fill="#fff"/><rect x="1015" y="390" width="1" height="25"/><rect x="1014" y="390" width="3" height="11"/><rect x="1019" y="395" width="1" height="22"/><rect x="1018" y="400" width="3" height="7"/><rect x="1023" y="380" width="1" height="29"/><rect x="1022" y="399" width="3" height="8"/><rect x="1023" y="400" width="1" height="6" fill="#fff"/><rect x="1027" y="382" width="1" height="27"/><rect x="1026" y="383" width="3" height="18"/><rect x="1027" y="384" width="1" height="16" fill="#fff"/><rect x="1031" y="380" width="1" height="18"/><rect x="1030" y="385" width="3" height="6"/><rect x="1035" y="361" width="1" height="31"/><rect x="1034" y="363" width="3" height="28"/><rect x="1035" y="364" width="1" height="26" fill="#fff"/><rect x="1039" y="361" width="1" height="24"/><rect x="1038" y="364" width="3" height="1"/><rect x="1043" y="360" width="1" height="17"/><rect x="1042" y="364" width="3" height="3"/><rect x="1047" y="351" width="1" height="23"/><rect x="1046" y="363" width="3" height="4"/><rect x="1047" y="364" width="1" height="2" fill="#fff"/><rect x="1051" y="361" width="1" height="19"/><rect x="1050" y="363" width="3" height="12"/><rect x="1055" y="357" width="1" height="23"/><rect x="1054" y="360" width="3" height="15"/><rect x="1055" y="361" width="1" height="13" fill="#fff"/><rect x="1059" y="354" width="1" height="22"/><rect x="1058" y="360" width="3" height="15"/><rect x="1063" y="373" width="1" height="32"/><rect x="1062" y="373" width="3" height="20"/><rect x="1067" y="385" width="1" height="15"/><rect x="1066" y="386" width="3" height="7"/><rect x="1067" y="387" width="1" height="5" fill="#fff"/><rect x="1071" y="381" width="1" height="16"/><rect x="1070" y="384" width="3" height="5"/><rect x="1071" y="385" width="1" height="3" fill="#fff"/><rect x="1075" y="376" width="1" height="15"/><rect x="1074" y="382" width="3" height="2"/><rect x="1079" y="376" width="1" height="12"/><rect x="1078" y="381" width="3" height="5"/><rect x="1079" y="382" width="1" height="3" fill="#fff"/></g>
<g fill="none" shape-rendering="crispEdges">
<path d="M3.5,670.6 L7.5,659.0 L11.5,649.0 L15.5,642.5 L19.5,646.5 L23.5,653.0 L27.5,648.0 L31.5,640.0 L35.5,632.5 L39.5,629.8 L43.5,628.0 L47.5,630.6 L51.5,642.1 L55.5,660.9 L59.5,679.3 L63.5,690.2 L67.5,694.8 L71.5,694.1 L75.5,694.7 L79.5,694.4 L83.5,687.4 L87.5,671.2 L91.5,648.6 L95.5,644.2 L99.5,649.0 L103.5,664.5 L107.5,669.6 L111.5,670.7 L115.5,663.6 L119.5,646.7 L123.5,625.4 L127.5,608.7 L131.5,602.9 L135.5,606.0 L139.5,613.0 L143.5,624.8 L147.5,646.2 L151.5,675.5 L155.5,699.2 L159.5,705.5 L163.5,691.6 L167.5,672.5 L171.5,658.8 L175.5,660.2 L179.5,668.6 L183.5,676.6 L187.5,684.6 L191.5,696.0 L195.5,706.6 L199.5,703.7 L203.5,687.0 L207.5,665.8 L211.5,646.8 L215.5,634.1 L219.5,622.0 L223.5,614.3 L227.5,607.7 L231.5,605.4 L235.5,607.5 L239.5,610.3 L243.5,613.2 L247.5,617.9 L251.5,633.1 L255.5,656.3 L259.5,664.2 L263.5,659.2 L267.5,647.5 L271.5,656.4 L275.5,673.1 L279.5,689.7 L283.5,691.6 L287.5,680.1 L291.5,655.9 L295.5,629.6 L299.5,613.7 L303.5,614.4 L307.5,630.4 L311.5,653.9 L315.5,682.2 L319.5,703.5 L323.5,713.7 L327.5,711.6 L331.5,703.9 L335.5,697.0 L339.5,690.1 L343.5,688.5 L347.5,691.5 L351.5,695.1 L355.5,692.5 L359.5,680.8 L363.5,671.1 L367.5,670.5 L371.5,679.5 L375.5,686.3 L379.5,689.7 L383.5,678.1 L387.5,671.9 L391.5,666.0 L395.5,674.3 L399.5,679.8 L403.5,679.6 L407.5,673.7 L411.5,666.0 L415.5,663.9 L419.5,661.9 L423.5,649.2 L427.5,633.4 L431.5,622.0 L435.5,627.5 L439.5,639.1 L443.5,653.6 L447.5,665.2 L451.5,669.2 L455.5,668.0 L459.5,672.4 L463.5,685.3 L467.5,699.5 L471.5,700.9 L475.5,690.7 L479.5,673.6 L483.5,662.0 L487.5,655.7 L491.5,646.4 L495.5,635.5 L499.5,624.5 L503.5,627.5 L507.5,632.6 L511.5,647.0 L515.5,662.4 L519.5,682.3 L523.5,691.2 L527.5,679.5 L531.5,656.5 L535.5,634.0 L539.5,631.7 L543.5,637.0 L547.5,654.8 L551.5,671.4 L555.5,691.7 L559.5,691.3 L563.5,680.6 L567.5,657.4 L571.5,643.0 L575.5,627.8 L579.5,616.9 L583.5,613.8 L587.5,624.8 L591.5,650.7 L595.5,668.9 L599.5,678.8 L603.5,673.8 L607.5,678.1 L611.5,688.7 L615.5,704.7 L619.5,712.3 L623.5,705.9 L627.5,695.1 L631.5,686.0 L635.5,689.9 L639.5,699.7 L643.5,709.1 L647.5,707.2 L651.5,691.0 L655.5,660.4 L659.5,632.7 L663.5,613.5 L667.5,608.8 L671.5,606.9 L675.5,608.2 L679.5,608.1 L683.5,610.2 L687.5,617.2 L691.5,627.0 L695.5,634.2 L699.5,635.3 L703.5,638.0 L707.5,646.4 L711.5,651.9 L715.5,651.3 L719.5,645.4 L723.5,644.8 L727.5,650.8 L731.5,665.9 L735.5,685.3 L739.5,701.2 L743.5,702.5 L747.5,692.1 L751.5,673.2 L755.5,655.2 L759.5,643.1 L763.5,647.4 L767.5,662.5 L771.5,672.9 L775.5,668.1 L779.5,655.2 L783.5,645.1 L787.5,646.2 L791.5,653.7 L795.5,666.7 L799.5,677.9 L803.5,688.8 L807.5,699.1 L811.5,707.6 L815.5,713.0 L819.5,715.9 L823.5,710.4 L827.5,700.1 L831.5,685.2 L835.5,683.9 L839.5,690.7 L843.5,702.0 L847.5,705.2 L851.5,702.8 L855.5,696.1 L859.5,688.3 L863.5,675.0 L867.5,662.3 L871.5,655.1 L875.5,667.5 L879.5,682.7 L883.5,693.5 L887.5,690.0 L891.5,682.4 L895.5,667.5 L899.5,651.1 L903.5,646.6 L907.5,661.2 L911.5,681.3 L915.5,686.8 L919.5,671.2 L923.5,646.2 L927.5,626.0 L931.5,617.1 L935.5,617.2 L939.5,618.5 L943.5,626.2 L947.5,643.6 L951.5,668.4 L955.5,688.8 L959.5,698.4 L963.5,701.5 L967.5,704.3 L971.5,703.6 L975.5,703.9 L979.5,694.0 L983.5,680.0 L987.5,656.4 L991.5,637.4 L995.5,623.4 L999.5,619.8 L1003.5,620.3 L1007.5,622.6 L1011.5,618.8 L1015.5,617.0 L1019.5,622.4 L1023.5,637.3 L1027.5,645.5 L1031.5,643.4 L1035.5,629.3 L1039.5,618.7 L1043.5,610.0 L1047.5,611.3 L1051.5,619.5 L1055.5,631.8 L1059.5,648.2 L1063.5,662.1 L1067.5,677.2 L1071.5,682.6 L1075.5,681.2 L1079.5,672.0" stroke="#ff0000" stroke-width="1" stroke-dasharray="3,3"/>
<path d="M3.5,667.1 L7.5,648.0 L11.5,635.6 L15.5,642.8 L19.5,661.0 L23.5,660.2 L27.5,637.2 L31.5,629.8 L35.5,630.6 L39.5,629.0 L43.5,624.3 L47.5,638.4 L51.5,663.7 L55.5,680.6 L59.5,693.5 L63.5,696.4 L67.5,694.6 L71.5,691.3 L75.5,698.0 L79.5,693.7 L83.5,670.4 L87.5,649.5 L91.5,626.0 L95.5,657.1 L99.5,664.0 L103.5,672.5 L107.5,672.3 L111.5,667.2 L115.5,651.2 L119.5,621.5 L123.5,603.3 L127.5,601.2 L131.5,604.1 L135.5,612.8 L139.5,622.0 L143.5,639.8 L147.5,677.0 L151.5,709.7 L155.5,710.8 L159.5,695.9 L163.5,668.1 L167.5,653.5 L171.5,654.9 L175.5,672.3 L179.5,678.6 L183.5,679.0 L187.5,696.4 L191.5,712.7 L195.5,710.7 L199.5,687.7 L203.5,662.8 L207.5,646.9 L211.5,630.9 L215.5,624.4 L219.5,610.7 L223.5,607.7 L227.5,604.7 L231.5,603.7 L235.5,614.1 L239.5,613.0 L243.5,612.6 L247.5,628.0 L251.5,658.7 L255.5,682.2 L259.5,651.6 L263.5,643.7 L267.5,647.3 L271.5,678.1 L275.5,693.8 L279.5,697.2 L283.5,683.7 L287.5,659.3 L291.5,624.8 L295.5,604.9 L299.5,611.5 L303.5,626.7 L307.5,652.9 L311.5,682.0 L315.5,711.6 L319.5,717.1 L323.5,712.6 L327.5,705.0 L331.5,693.9 L335.5,692.0 L339.5,684.2 L343.5,689.3 L347.5,700.8 L351.5,695.1 L355.5,681.5 L359.5,665.7 L363.5,666.2 L367.5,679.7 L371.5,692.7 L375.5,686.5 L379.5,689.9 L383.5,658.0 L387.5,667.8 L391.5,672.3 L395.5,682.9 L399.5,684.1 L403.5,671.9 L407.5,665.2 L411.5,660.9 L415.5,665.5 L419.5,659.3 L423.5,622.8 L427.5,618.1 L431.5,625.2 L435.5,639.2 L439.5,652.9 L443.5,668.8 L447.5,673.9 L451.5,665.0 L455.5,665.0 L459.5,687.2 L463.5,703.6 L467.5,707.8 L471.5,691.4 L475.5,672.9 L479.5,656.5 L483.5,656.6 L487.5,653.9 L491.5,628.7 L495.5,623.9 L499.5,620.7 L503.5,638.0 L507.5,639.1 L511.5,663.8 L515.5,684.4 L519.5,698.7 L523.5,690.6 L527.5,649.2 L531.5,629.7 L535.5,623.1 L539.5,642.3 L543.5,645.5 L547.5,676.7 L551.5,692.1 L555.5,706.3 L559.5,675.6 L563.5,659.9 L567.5,636.7 L571.5,632.4 L575.5,614.2 L579.5,604.0 L583.5,623.2 L587.5,647.1 L591.5,681.6 L595.5,677.9 L599.5,677.0 L603.5,666.6 L607.5,690.6 L611.5,708.8 L615.5,714.8 L619.5,713.3 L623.5,689.7 L627.5,682.4 L631.5,685.9 L635.5,701.4 L639.5,711.9 L643.5,714.0 L647.5,695.6 L651.5,663.3 L655.5,622.2 L659.5,612.7 L663.5,605.7 L667.5,608.0 L671.5,606.9 L675.5,609.8 L679.5,607.7 L683.5,613.0 L687.5,631.0 L691.5,637.1 L695.5,634.5 L699.5,634.3 L703.5,645.2 L707.5,659.9 L711.5,650.6 L715.5,643.5 L719.5,642.2 L723.5,648.8 L727.5,661.3 L731.5,687.6 L735.5,707.1 L739.5,709.0 L743.5,691.4 L747.5,675.8 L751.5,652.4 L755.5,637.5 L759.5,639.3 L763.5,665.5 L767.5,682.7 L771.5,670.4 L775.5,651.3 L779.5,643.7 L783.5,640.3 L787.5,654.6 L791.5,666.2 L795.5,679.2 L799.5,688.3 L803.5,698.8 L807.5,710.1 L811.5,713.8 L815.5,715.2 L819.5,718.6 L823.5,697.4 L827.5,684.2 L831.5,674.1 L835.5,693.5 L839.5,704.6 L843.5,707.8 L847.5,703.3 L851.5,697.3 L855.5,687.7 L859.5,679.9 L863.5,657.5 L867.5,649.5 L871.5,658.5 L875.5,694.5 L879.5,695.0 L883.5,691.0 L887.5,683.8 L891.5,672.3 L895.5,646.4 L899.5,634.5 L903.5,658.8 L907.5,690.1 L911.5,694.9 L915.5,675.2 L919.5,643.4 L923.5,619.9 L927.5,614.6 L931.5,616.7 L935.5,620.4 L939.5,618.5 L943.5,639.6 L947.5,672.7 L951.5,693.1 L955.5,700.6 L959.5,701.6 L963.5,702.3 L967.5,709.0 L971.5,699.6 L975.5,703.2 L979.5,679.2 L983.5,657.6 L987.5,632.3 L991.5,622.2 L995.5,615.7 L999.5,621.6 L1003.5,623.4 L1007.5,622.8 L1011.5,610.0 L1015.5,618.1 L1019.5,639.1 L1023.5,654.6 L1027.5,642.9 L1031.5,632.8 L1035.5,612.3 L1039.5,611.1 L1043.5,606.7 L1047.5,616.1 L1051.5,635.7 L1055.5,643.6 L1059.5,665.4 L1063.5,677.4 L1067.5,688.9 L1071.5,681.5 L1075.5,673.2 L1079.5,661.3" stroke="#20b2aa" stroke-width="1"/>
</g>
<rect x="0" y="0" width="2" height="749" fill="#fff"/>
<rect x="1358" y="0" width="71" height="749" fill="#fff"/>
<rect x="0" y="595" width="1429" height="1" fill="#fff"/>
<g fill="#000" shape-rendering="crispEdges">
<rect x="2" y="2" width="1356" height="1"/><rect x="2" y="2" width="1" height="593"/><rect x="1357" y="2" width="1" height="593"/><rect x="2" y="594" width="1356" height="1"/>
<rect x="2" y="596" width="1356" height="1"/><rect x="2" y="596" width="1" height="127"/><rect x="1357" y="596" width="1" height="127"/><rect x="2" y="722" width="1356" height="1"/>
<rect x="1358" y="36" width="3" height="1"/>
<rect x="1358" y="102" width="3" height="1"/>
<rect x="1358" y="167" width="3" height="1"/>
<rect x="1358" y="232" width="3" height="1"/>
<rect x="1358" y="298" width="3" height="1"/>
<rect x="1358" y="363" width="3" height="1"/>
<rect x="1358" y="428" width="3" height="1"/>
<rect x="1358" y="493" width="3" height="1"/>
<rect x="1358" y="558" width="3" height="1"/>
<rect x="1358" y="598" width="2" height="1"/>
<rect x="3" y="723" width="1" height="3"/>
<rect x="131" y="723" width="1" height="3"/>
<rect x="259" y="723" width="1" height="3"/>
<rect x="387" y="723" width="1" height="3"/>
<rect x="515" y="723" width="1" height="3"/>
<rect x="643" y="723" width="1" height="3"/>
<rect x="771" y="723" width="1" height="3"/>
<rect x="899" y="723" width="1" height="3"/>
<rect x="1027" y="723" width="1" height="3"/>
</g>
<g font-family="DejaVu Sans Condensed, DejaVu Sans, Liberation Sans, sans-serif" font-size="13.6" fill="#000" letter-spacing="0.3">
<text x="1363.7" y="42">1.09000</text>
<text x="1363.7" y="108">1.08795</text>
<text x="1363.7" y="173">1.08595</text>
<text x="1363.7" y="238">1.08395</text>
<text x="1363.7" y="304">1.08190</text>
<text x="1363.7" y="369">1.07990</text>
<text x="1363.7" y="434">1.07790</text>
<text x="1363.7" y="499">1.07590</text>
<text x="1363.7" y="564">1.07385</text>
<text x="1360.5" y="612">100</text><text x="1359.6" y="627.7">80</text><text x="1359.5" y="702.6">20</text><text x="1360.3" y="717.8">0</text>
<text x="1.1" y="740">21 Mar 2025</text>
<text x="129.1" y="740">24 Mar 03:15</text>
<text x="257.1" y="740">24 Mar 11:15</text>
<text x="385.1" y="740">24 Mar 19:15</text>
<text x="513.1" y="740">25 Mar 03:15</text>
<text x="641.1" y="740">25 Mar 11:15</text>
<text x="769.1" y="740">25 Mar 19:15</text>
<text x="897.1" y="740">26 Mar 03:15</text>
<text x="1025.1" y="740">26 Mar 11:15</text>
<text x="23.6" y="18.9" style="white-space:pre" textLength="327.5" lengthAdjust="spacingAndGlyphs">EURUSD.m,M15  1.07927 1.07952 1.07916 1.07936</text>
<text x="6.3" y="613.9" textLength="190.5" lengthAdjust="spacingAndGlyphs">Stoch(5,3,3) 47.8261 39.2450</text>
</g>
<path d="M5.9,10 L17.1,10 L11.5,16.1 Z" fill="#000"/>
<rect x="1359" y="373" width="62" height="17" fill="#000"/>
<text x="1363.8" y="387.1" font-family="DejaVu Sans Condensed, DejaVu Sans, Liberation Sans, sans-serif" font-size="13.6" letter-spacing="0.3" fill="#fff">1.07936</text>
<g stroke="#ff0000" stroke-width="1" fill="none" shape-rendering="crispEdges">
<line x1="1111.2" y1="406.5" x2="1131.4" y2="366.3" stroke-dasharray="19.1 7.8"/>
<line x1="1131.2" y1="370" x2="1222.4" y2="514.7" stroke-dasharray="20.6 7.9"/>
</g>
<text x="572" y="70.8" font-family="DejaVu Sans, sans-serif" font-size="28.2" textLength="256" lengthAdjust="spacingAndGlyphs" fill="#000" stroke="#000" stroke-width="0.35">EURUSD - 15 Menit</text>
<text x="1166" y="535.6" font-family="DejaVu Sans, sans-serif" font-size="27" textLength="106.5" lengthAdjust="spacingAndGlyphs" fill="#000" stroke="#000" stroke-width="0.3">Support</text>
<text x="1139.5" y="262.8" font-family="DejaVu Sans, sans-serif" font-size="20" textLength="131" lengthAdjust="spacingAndGlyphs" fill="#000">Resistance</text>
<g>
<path fill="#222327" d="M974.3,217.5 L996.2,195 C999.5,192 1004,190.8 1008.8,190.8 C1013,190.8 1017,192.5 1020.3,195 L1034.4,208.5 C1025,206.5 1010,207 1001,209.4 C993,211 985,213.5 974.3,217.5 Z"/>
<path fill="#000" d="M1002.5,221.2 C990,222.5 972,227 960,236 C955,240 951.5,243.5 951.8,248 C952,253 955,256 958,259 L965.5,267 C967,262 969,255 972,250 C975,245 978,241 981.5,239 C978,244 976,250 974.5,258 C973.5,265 974,272 977,278 L982,284 C980,278 979.5,270 979.5,262 C980,255 983,247 988,240 C992,234 997,227 1002.5,221.2 Z"/>
<path fill="#f1861c" d="M1002.8,221.2 C1010,220.6 1020,221.5 1026.5,224.5 C1031,226.5 1033.8,230 1033.6,233.5 C1033.3,236.5 1031,239.5 1027,243 C1020,248.5 1011,253 1003.5,255.6 C1010,255 1018,253.5 1024,251 C1032,247 1040,240.5 1044,235 C1047,230 1047.8,224 1047.6,219.4 C1047.3,216.5 1046,214.3 1044.4,212.6 C1047.5,214.5 1050.5,218 1051.5,222 C1052,224 1052,225.5 1053,227.5 C1056,231 1061,235.5 1063.5,240 C1065.5,244 1065.5,250 1063.5,254 C1062.5,256 1061.5,257.5 1060,259 L1025,294.2 C1022,296.5 1017,297.5 1013,296 C1009,294 1004,288 1000,282 C995,274 992.5,265 992.3,256 C992.2,245 995.5,232 1000,225 C1001,223.5 1001.8,222.2 1002.8,221.2 Z"/>
<g font-family="Liberation Sans, Arial, sans-serif" font-weight="bold" font-size="75.2" fill="#000"><text x="1073.65" y="270.6" textLength="43.37" lengthAdjust="spacingAndGlyphs">P</text><text x="1118.26" y="270.6" textLength="38.28" lengthAdjust="spacingAndGlyphs">E</text><text x="1157.95" y="270.6" textLength="53.46" lengthAdjust="spacingAndGlyphs">D</text><text x="1213.01" y="270.6" textLength="16.97" lengthAdjust="spacingAndGlyphs">I</text><text x="1231.49" y="270.6" textLength="52.42" lengthAdjust="spacingAndGlyphs">A</text><text x="1283.87" y="270.6" textLength="38.65" lengthAdjust="spacingAndGlyphs">F</text><text x="1322.37" y="270.6" textLength="48.07" lengthAdjust="spacingAndGlyphs">X</text></g>
<text transform="translate(1389.3,264.8) rotate(-90)" font-family="Liberation Sans, Arial, sans-serif" font-size="16.5" textLength="40" lengthAdjust="spacingAndGlyphs" fill="#111">.COM</text>
</g>
</svg></body></html>
